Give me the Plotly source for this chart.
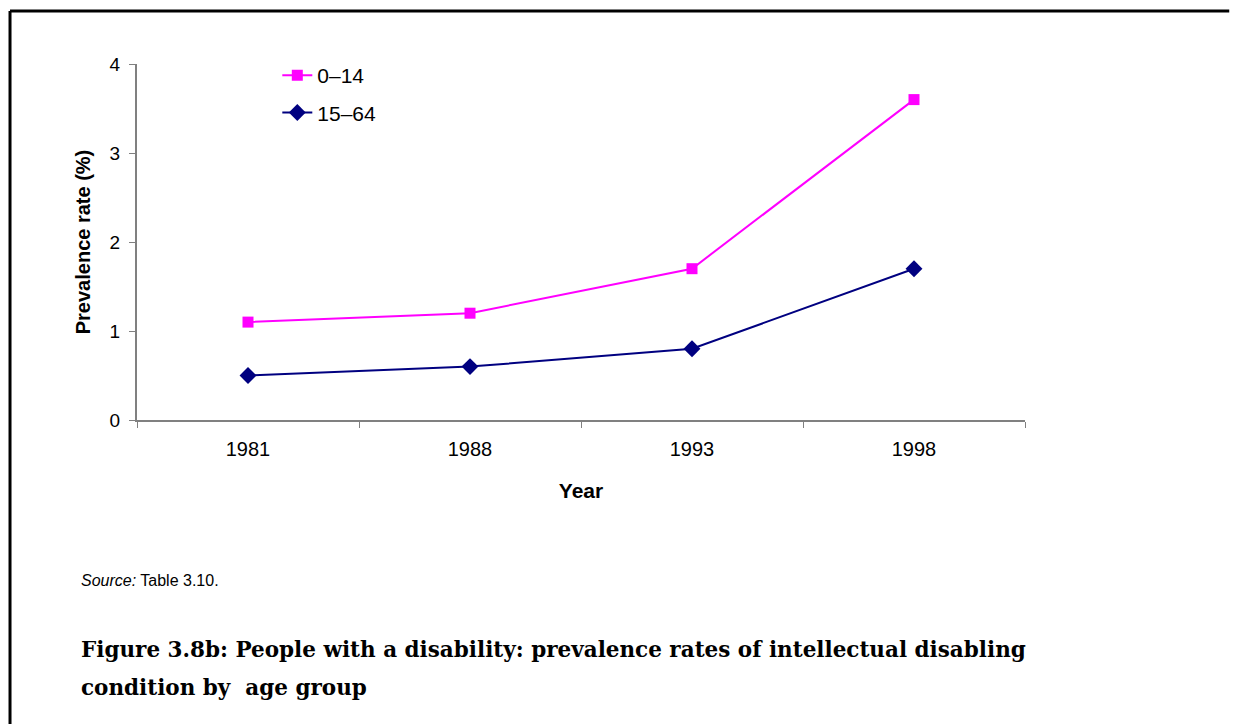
import plotly.graph_objects as go

# Survey years and prevalence rates (%) of intellectual disabling condition
years = ["1981", "1988", "1993", "1998"]
age_0_14 = [1.1, 1.2, 1.7, 3.6]
age_15_64 = [0.5, 0.6, 0.8, 1.7]
y_ticks = [0, 1, 2, 3, 4]

sans = "Liberation Sans, Arial, sans-serif"
serif = "DejaVu Serif, serif"

fig = go.Figure()
fig.add_trace(go.Scatter(
    x=years, y=age_0_14, name="0\u201314", mode="lines+markers",
    line=dict(color="#FF00FF", width=2),
    marker=dict(symbol="square", size=11, color="#FF00FF"),
    legendgroup="a",
))
fig.add_trace(go.Scatter(
    x=years, y=age_15_64, name="15\u201364", mode="lines+markers",
    line=dict(color="#000080", width=2),
    marker=dict(symbol="diamond", size=13, color="#000080"),
    legendgroup="b",
))

axis_color = "#808080"
fig.update_xaxes(
    type="category", range=[-0.5, 3.5], tickson="boundaries",
    ticks="outside", ticklen=6, tickcolor=axis_color, ticklabelstandoff=10,
    showline=True, linecolor=axis_color, linewidth=2,
    showgrid=False, zeroline=False,
    tickfont=dict(family=sans, size=20, color="black"),
    title=dict(text="<b>Year</b>", font=dict(family=sans, size=21, color="black"), standoff=24),
)
fig.update_yaxes(
    range=[0, 4], tickvals=y_ticks, ticks="outside", ticklen=6, tickcolor=axis_color,
    ticklabelstandoff=5,
    showline=True, linecolor=axis_color, linewidth=2,
    showgrid=False, zeroline=False,
    tickfont=dict(family=sans, size=19, color="black"),
    title=dict(text="<b>Prevalence rate (%)</b>", font=dict(family=sans, size=20, color="black"), standoff=14),
)

# Outer frame: top and left edges (paper coordinates relative to the plot area)
frame_top = 1.149
frame_left = -0.143
frame_right = 1.23

fig.update_layout(
    width=1236, height=724,
    margin=dict(l=137, r=211, t=64, b=304),
    paper_bgcolor="white", plot_bgcolor="white",
    showlegend=True,
    legend=dict(
        x=0.158, y=1.025, xanchor="left", yanchor="top",
        font=dict(family=sans, size=21, color="black"),
        bgcolor="rgba(0,0,0,0)", tracegroupgap=7, traceorder="grouped",
    ),
    annotations=[
        dict(text="<i>Source:</i> Table 3.10.", xref="paper", yref="paper",
             x=-0.065, y=-0.45, xanchor="left", yanchor="middle", showarrow=False,
             font=dict(family=sans, size=16, color="black")),
        dict(text="<b>Figure 3.8b: People with a disability: prevalence rates of intellectual disabling</b>",
             xref="paper", yref="paper", x=-0.065, y=-0.645, xanchor="left", yanchor="middle",
             align="left", showarrow=False,
             font=dict(family=serif, size=21.5, color="black")),
        dict(text="<b>condition by  age group</b>",
             xref="paper", yref="paper", x=-0.065, y=-0.752, xanchor="left", yanchor="middle",
             align="left", showarrow=False,
             font=dict(family=serif, size=21.5, color="black")),
    ],
    shapes=[
        dict(type="line", xref="paper", yref="paper", x0=frame_left, x1=frame_right,
             y0=frame_top, y1=frame_top, line=dict(color="black", width=3)),
        dict(type="line", xref="paper", yref="paper", x0=frame_left, x1=frame_left,
             y0=frame_top, y1=-0.854, line=dict(color="black", width=3)),
    ],
)

fig.write_html(
    "out.html",
    post_script=(
        "document.documentElement.style.overflow='hidden';"
        "document.body.style.margin='0';document.body.style.overflow='hidden';"
    ),
)
